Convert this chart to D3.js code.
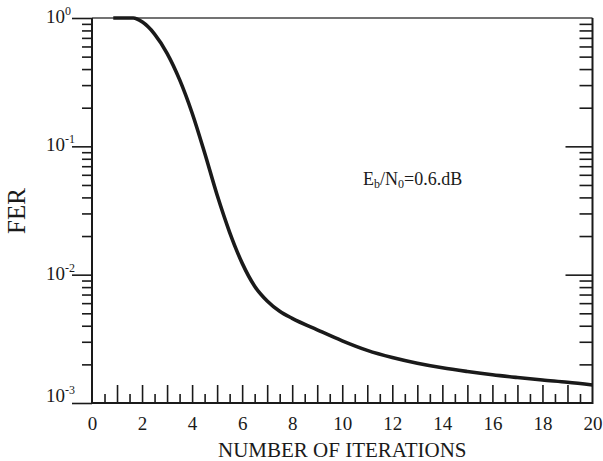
<!DOCTYPE html>
<html>
<head>
<meta charset="utf-8">
<script src="https://cdn.jsdelivr.net/npm/d3@7"></script>
<style>
  body { margin: 0; background: #fff; }
  svg text { font-family: "Liberation Serif", "Times New Roman", serif !important; fill: #1a1a1a; }
  .axis path { display: none; }
  .axis line { stroke: #1a1a1a; stroke-width: 1.6; }
</style>
</head>
<body>
<div id="chart"></div>
<script>
// FER vs. number of iterations, Eb/N0 = 0.6 dB
var iterations = [0.85, 1, 1.65, 2, 2.5, 3, 3.5, 4, 4.5, 5, 5.5, 6, 6.5, 7, 7.5, 8, 9, 10, 11, 12, 13, 14, 15, 16, 17, 18, 19, 20];
var fer = [1, 1, 1, 0.933, 0.750, 0.531, 0.331, 0.182, 0.0891, 0.0417, 0.0214, 0.0123, 0.00813, 0.00624, 0.00519, 0.00457, 0.00372, 0.00305, 0.00257, 0.00226, 0.00204, 0.00188, 0.00176, 0.00166, 0.00158, 0.00151, 0.00145, 0.00138];

var xLabelTicks = [0, 2, 4, 6, 8, 10, 12, 14, 16, 18, 20];
var yDecades = [-3, -2, -1, 0];

var width = 603, height = 461;
var margin = {top: 18, right: 10.5, bottom: 58, left: 92};
var serif = "'Liberation Serif', 'Times New Roman', serif";

var x = d3.scaleLinear().domain([0, 20]).range([margin.left, width - margin.right]);
var y = d3.scaleLog().domain([1e-3, 1]).range([height - margin.bottom, margin.top]);

var svg = d3.select("#chart").append("svg")
  .attr("width", width)
  .attr("height", height);

var majorY = yDecades.map(function(d) { return Math.pow(10, d); });
var minorY = [];
yDecades.slice(0, 3).forEach(function(d) {
  d3.range(2, 10).forEach(function(k) { minorY.push(k * Math.pow(10, d)); });
});

var x0 = x.range()[0], x1 = x.range()[1];
var y0 = y.range()[0], y1 = y.range()[1];

// x ticks, drawn inward from the bottom edge
svg.append("g").attr("class", "axis")
  .attr("transform", "translate(0," + y0 + ")")
  .call(d3.axisTop(x).tickValues(d3.range(1, 20)).tickSize(18).tickFormat(""));
svg.append("g").attr("class", "axis")
  .attr("transform", "translate(0," + y0 + ")")
  .call(d3.axisTop(x).tickValues(d3.range(0.5, 20, 1)).tickSize(9).tickFormat(""));

// x labels
svg.append("g").attr("class", "axis")
  .attr("transform", "translate(0," + y0 + ")")
  .call(d3.axisBottom(x).tickValues(xLabelTicks).tickSize(0).tickPadding(14).tickFormat(d3.format("d")))
  .selectAll("text")
    .style("font-family", serif)
    .style("font-size", "19px");

// left y ticks (outside)
svg.append("g").attr("class", "axis")
  .attr("transform", "translate(" + x0 + ",0)")
  .call(d3.axisLeft(y).tickValues(majorY).tickSize(20).tickFormat(""));
svg.append("g").attr("class", "axis")
  .attr("transform", "translate(" + x0 + ",0)")
  .call(d3.axisLeft(y).tickValues(minorY).tickSize(10).tickFormat(""));

// right y ticks (inside)
svg.append("g").attr("class", "axis")
  .attr("transform", "translate(" + x1 + ",0)")
  .call(d3.axisLeft(y).tickValues(majorY.slice(1, 3)).tickSize(27).tickFormat(""));
svg.append("g").attr("class", "axis")
  .attr("transform", "translate(" + x1 + ",0)")
  .call(d3.axisLeft(y).tickValues(minorY).tickSize(13).tickFormat(""));

// y labels 10^n
var ylab = svg.append("g").selectAll("text")
  .data(yDecades)
  .enter().append("text")
  .attr("x", 46)
  .attr("y", function(d) { return y(Math.pow(10, d)) + (d === -3 ? -1 : 5); })
  .style("font-family", serif)
  .style("font-size", "19px");
ylab.append("tspan").text("10");
ylab.append("tspan")
  .style("font-size", "12px")
  .attr("dy", -8)
  .text(function(d) { return d; });

// frame
svg.append("line")
  .attr("x1", x0).attr("x2", x1).attr("y1", y1).attr("y2", y1)
  .attr("stroke", "#444").attr("stroke-width", 1.5);
svg.append("path")
  .attr("d", "M" + x0 + "," + y1 + "V" + y0 + "H" + x1 + "V" + y1)
  .attr("fill", "none")
  .attr("stroke", "#1a1a1a")
  .attr("stroke-width", 2);

// curve
var line = d3.line()
  .x(function(d, i) { return x(iterations[i]); })
  .y(function(d) { return y(d); })
  .curve(d3.curveMonotoneX);

svg.append("path")
  .datum(fer)
  .attr("d", line)
  .attr("fill", "none")
  .attr("stroke", "#1a1a1a")
  .attr("stroke-width", 3.6);

// axis titles
svg.append("text")
  .attr("x", (x0 + x1) / 2)
  .attr("y", 457)
  .attr("text-anchor", "middle")
  .style("font-family", serif)
  .style("font-size", "21px")
  .text("NUMBER OF ITERATIONS");

svg.append("text")
  .attr("transform", "translate(25," + 211 + ") rotate(-90)")
  .attr("text-anchor", "middle")
  .style("font-family", serif)
  .style("font-size", "25px")
  .text("FER");

// annotation
var note = svg.append("text")
  .attr("x", 363)
  .attr("y", 185)
  .style("font-family", serif)
  .style("font-size", "18px");
note.append("tspan").text("E");
note.append("tspan").style("font-size", "12px").attr("dy", 3).text("b");
note.append("tspan").attr("dy", -3).text("/N");
note.append("tspan").style("font-size", "12px").attr("dy", 3).text("0");
note.append("tspan").attr("dy", -3).text("=0.6.dB");
</script>
</body>
</html>
